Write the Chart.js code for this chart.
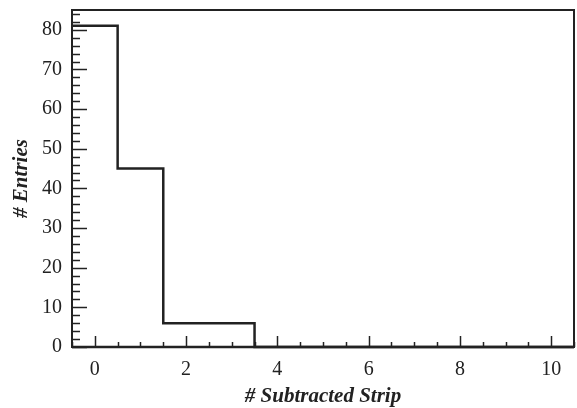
<!DOCTYPE html>
<html>
<head>
<meta charset="utf-8">
<script src="https://cdn.jsdelivr.net/npm/chart.js@4"></script>
<style>
  html, body { margin: 0; padding: 0; background: #fff; }
  #wrap { width: 577px; height: 408px; }
</style>
</head>
<body>
<div id="wrap"><canvas id="histo"></canvas></div>
<script>
// Histogram of subtracted strips
// bin centres and entries per bin
const binCenters = [0, 1, 2, 3, 4, 5, 6, 7, 8, 9, 10];
const entries = [81, 45, 6, 6, 0, 0, 0, 0, 0, 0, 0];
const binWidth = 1;

// tick labels
const xTickValues = [0, 2, 4, 6, 8, 10];
const yTickValues = [0, 10, 20, 30, 40, 50, 60, 70, 80];

const xMin = -0.5, xMax = 10.5;
const yMin = 0, yMax = 85;

const ink = '#222';
const serif = '"Liberation Serif", "Times New Roman", serif';

// Points on the left edge of every bin, plus the closing right edge
let stepPoints = binCenters.map((c, i) => ({ x: c - binWidth / 2, y: entries[i] }));
stepPoints.push({ x: binCenters[binCenters.length - 1] + binWidth / 2, y: entries[entries.length - 1] });

// Frame and inward-pointing ticks, ROOT style
const frameTicks = {
    id: 'frameTicks',
    afterDraw(chart) {
        const ctx = chart.ctx;
        const a = chart.chartArea;
        const xs = chart.scales.x;
        const ys = chart.scales.y;
        ctx.save();
        ctx.strokeStyle = ink;

        // x ticks: minor every 0.5, major on even numbers
        ctx.lineWidth = 1.5;
        for (let v = xMin; v <= xMax + 1e-9; v += 0.5) {
            const px = Math.round(xs.getPixelForValue(v)) + 0.5;
            const len = (Math.abs(v % 2) < 1e-9) ? 11 : 5;
            ctx.beginPath();
            ctx.moveTo(px, a.bottom);
            ctx.lineTo(px, a.bottom - len);
            ctx.stroke();
        }

        // y ticks: minor every 2, major every 10
        for (let v = yMin; v <= yMax; v += 2) {
            const py = Math.round(ys.getPixelForValue(v)) + 0.5;
            const len = (v % 10 === 0) ? 15 : 8;
            ctx.beginPath();
            ctx.moveTo(a.left, py);
            ctx.lineTo(a.left + len, py);
            ctx.stroke();
        }

        // frame
        ctx.lineWidth = 2;
        ctx.strokeRect(a.left, a.top, a.right - a.left, a.bottom - a.top);
        ctx.lineWidth = 2.5;
        ctx.beginPath();
        ctx.moveTo(a.left, a.bottom);
        ctx.lineTo(a.right, a.bottom);
        ctx.stroke();
        ctx.restore();
    }
};

const ctx = document.getElementById('histo');

new Chart(ctx, {
    type: 'line',
    data: {
        datasets: [{
            data: stepPoints,
            stepped: 'before',
            borderColor: ink,
            borderWidth: 2.5,
            pointRadius: 0,
            fill: false,
            clip: false
        }]
    },
    options: {
        responsive: true,
        maintainAspectRatio: false,
        animation: false,
        layout: {
            padding: { left: 0, right: 3, top: 0, bottom: 0 }
        },
        plugins: {
            legend: { display: false },
            tooltip: { enabled: false }
        },
        scales: {
            x: {
                type: 'linear',
                min: xMin,
                max: xMax,
                afterBuildTicks: s => { s.ticks = xTickValues.map(v => ({ value: v })); },
                afterFit: s => { s.height = 61; s.paddingLeft = 0; s.paddingRight = 0; },
                grid: { display: false, drawTicks: false },
                border: { display: false },
                ticks: {
                    color: ink,
                    padding: 11,
                    maxRotation: 0,
                    font: { family: serif, size: 20 }
                },
                title: {
                    display: true,
                    text: '# Subtracted Strip',
                    color: ink,
                    padding: { top: 0, bottom: -1 },
                    font: { family: serif, size: 21, weight: 'bold', style: 'italic' }
                }
            },
            y: {
                min: yMin,
                max: yMax,
                afterBuildTicks: s => { s.ticks = yTickValues.map(v => ({ value: v })); },
                afterFit: s => { s.width = 72; s.paddingTop = 10; s.paddingBottom = 0; },
                grid: { display: false, drawTicks: false },
                border: { display: false },
                ticks: {
                    color: ink,
                    padding: 10,
                    font: { family: serif, size: 20 }
                },
                title: {
                    display: true,
                    text: '# Entries',
                    color: ink,
                    padding: { top: 9, bottom: 0 },
                    font: { family: serif, size: 21, weight: 'bold', style: 'italic' }
                }
            }
        }
    },
    plugins: [frameTicks]
});
</script>
</body>
</html>
